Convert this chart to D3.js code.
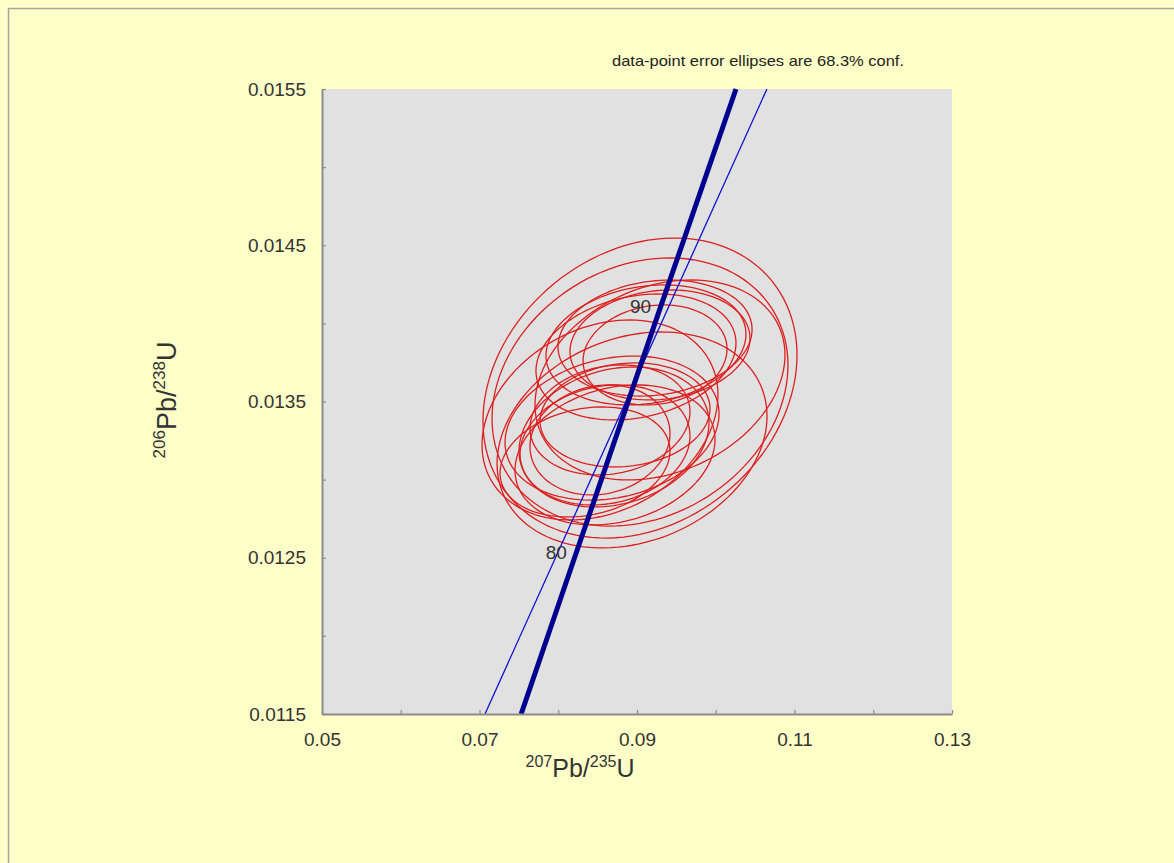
<!DOCTYPE html>
<html>
<head>
<meta charset="utf-8">
<script src="https://cdn.jsdelivr.net/npm/d3@7"></script>
<style>
  body { margin: 0; background: #ffffc8; }
  svg { display: block; font-family: "Liberation Sans", Arial, sans-serif; }
</style>
</head>
<body>
<div id="chart"></div>
<script>
// axis ticks and labels
const xTicks = [0.05, 0.06, 0.07, 0.08, 0.09, 0.10, 0.11, 0.12, 0.13];
const xTickLabels = [0.05, 0.07, 0.09, 0.11, 0.13];
const yTicks = [0.0115, 0.012, 0.0125, 0.013, 0.0135, 0.014, 0.0145, 0.015, 0.0155];
const yTickLabels = [0.0115, 0.0125, 0.0135, 0.0145, 0.0155];

// concordia curve points (age in Ma, 207/235, 206/238)
const concAge = [73.7, 80, 90, 99.2];
const concX = [0.07529, 0.08198, 0.09268, 0.10257];
const concY = [0.0115, 0.012487, 0.014059, 0.0155];
const labelAges = [80, 90];

// thin line
const thinX = [0.0707, 0.1065];
const thinY = [0.0115, 0.0155];

// data-point error ellipses: centre, half-widths, correlation
const ellX =    [0.09038, 0.09038, 0.08937, 0.09229, 0.09114, 0.09292, 0.08987, 0.09229, 0.08683,
                 0.08708, 0.08657, 0.08594, 0.08848, 0.08340, 0.08721, 0.08530, 0.08530, 0.09292];
const ellY =    [0.013586, 0.013561, 0.013254, 0.013906, 0.013862, 0.013862, 0.013785, 0.013798, 0.013330,
                 0.013273, 0.013382, 0.013222, 0.013414, 0.013113, 0.013158, 0.013254, 0.013382, 0.013638];
const ellErrX = [0.01994, 0.01879, 0.01714, 0.01232, 0.01270, 0.01143, 0.01270, 0.00914, 0.01359,
                 0.01206, 0.01016, 0.01079, 0.01079, 0.01079, 0.01270, 0.00889, 0.01498, 0.01587];
const ellErrY = [0.000960, 0.000858, 0.000691, 0.000371, 0.000384, 0.000352, 0.000403, 0.000320, 0.000461,
                 0.000448, 0.000352, 0.000384, 0.000333, 0.000352, 0.000448, 0.000352, 0.000640, 0.000640];
const ellRho =  [0.22, 0.20, 0.22, 0.15, 0.18, 0.12, 0.22, 0.12, 0.20,
                 0.20, 0.15, 0.15, 0.12, 0.20, 0.22, 0.12, 0.25, 0.25];

const width = 1174, height = 863;
const plot = {left: 322, right: 952, top: 89, bottom: 714};

const svg = d3.select('#chart').append('svg')
  .attr('width', width).attr('height', height);

svg.append('rect').attr('width', width).attr('height', height).attr('fill', '#ffffc8');
// frame (only top and left visible)
svg.append('rect')
  .attr('x', 8.5).attr('y', 8.5).attr('width', width + 20).attr('height', height + 20)
  .attr('fill', 'none').attr('stroke', '#a3a3a3').attr('stroke-width', 1.5);

const scaleX = d3.scaleLinear([0.05, 0.13], [plot.left, plot.right]);
const scaleY = d3.scaleLinear([0.0115, 0.0155], [plot.bottom, plot.top]);

svg.append('rect')
  .attr('x', plot.left).attr('y', plot.top)
  .attr('width', plot.right - plot.left).attr('height', plot.bottom - plot.top)
  .attr('fill', '#e1e1e1');

// ellipses
const ellipses = ellX.map((x, i) => ({x, y: ellY[i], ex: ellErrX[i], ey: ellErrY[i], rho: ellRho[i]}));
const ellLine = d3.line().x(p => scaleX(p[0])).y(p => scaleY(p[1])).curve(d3.curveLinearClosed);
const steps = d3.range(0, 120).map(k => k / 120 * 2 * Math.PI);

svg.append('g').selectAll('path')
  .data(ellipses)
  .join('path')
  .attr('d', e => ellLine(steps.map(t => [
      e.x + e.ex * Math.cos(t),
      e.y + e.ey * (e.rho * Math.cos(t) + Math.sqrt(1 - e.rho * e.rho) * Math.sin(t))
  ])))
  .attr('fill', 'none')
  .attr('stroke', '#dc1f1f')
  .attr('stroke-width', 1.3);

// thin line
svg.append('path')
  .attr('d', d3.line().x((d, i) => scaleX(d)).y((d, i) => scaleY(thinY[i]))(thinX))
  .attr('fill', 'none').attr('stroke', '#1010d0').attr('stroke-width', 1.3);

// concordia
svg.append('path')
  .attr('d', d3.line().x(d => scaleX(d)).y((d, i) => scaleY(concY[i]))(concX))
  .attr('fill', 'none').attr('stroke', '#000090').attr('stroke-width', 5);

// age labels
svg.append('g').selectAll('text')
  .data(labelAges)
  .join('text')
  .attr('x', a => scaleX(concX[concAge.indexOf(a)]) - 7)
  .attr('y', a => scaleY(concY[concAge.indexOf(a)]) - 1)
  .attr('text-anchor', 'end')
  .attr('font-size', 19)
  .attr('fill', '#333')
  .text(a => a);

// axes
const axisX = svg.append('g')
  .attr('transform', `translate(0,${plot.bottom})`)
  .call(d3.axisBottom(scaleX).tickValues(xTicks)
    .tickFormat(d => xTickLabels.includes(d) ? String(d) : '')
    .tickSizeInner(-4).tickSizeOuter(0).tickPadding(19));

const axisY = svg.append('g')
  .attr('transform', `translate(${plot.left},0)`)
  .call(d3.axisLeft(scaleY).tickValues(yTicks)
    .tickFormat(d => yTickLabels.includes(d) ? String(d) : '')
    .tickSizeInner(-4).tickSizeOuter(0).tickPadding(16));

[axisX, axisY].forEach(a => {
  a.select('.domain').attr('stroke', '#8c8c8c').attr('stroke-width', 2);
  a.selectAll('.tick line').attr('stroke', '#8c8c8c').attr('stroke-width', 1.2);
  a.selectAll('text').attr('font-size', 19).attr('fill', '#333')
    .attr('font-family', '"Liberation Sans", Arial, sans-serif');
});

// axis titles
const titleX = svg.append('text')
  .attr('x', 580).attr('y', 777)
  .attr('text-anchor', 'middle').attr('fill', '#333').attr('font-size', 25);
titleX.append('tspan').attr('font-size', 16).attr('dy', -10).text('207');
titleX.append('tspan').attr('dy', 10).text('Pb/');
titleX.append('tspan').attr('font-size', 16).attr('dy', -10).text('235');
titleX.append('tspan').attr('dy', 10).text('U');

const titleY = svg.append('text')
  .attr('transform', 'translate(176,400) rotate(-90)')
  .attr('text-anchor', 'middle').attr('fill', '#333').attr('font-size', 27);
titleY.append('tspan').attr('font-size', 17).attr('dy', -11).text('206');
titleY.append('tspan').attr('dy', 11).text('Pb/');
titleY.append('tspan').attr('font-size', 17).attr('dy', -11).text('238');
titleY.append('tspan').attr('dy', 11).text('U');

// note
svg.append('text')
  .attr('x', 758).attr('y', 66)
  .attr('text-anchor', 'middle').attr('font-size', 15).attr('fill', '#222')
  .attr('textLength', 292).attr('lengthAdjust', 'spacingAndGlyphs')
  .text('data-point error ellipses are 68.3% conf.');
</script>
</body>
</html>
